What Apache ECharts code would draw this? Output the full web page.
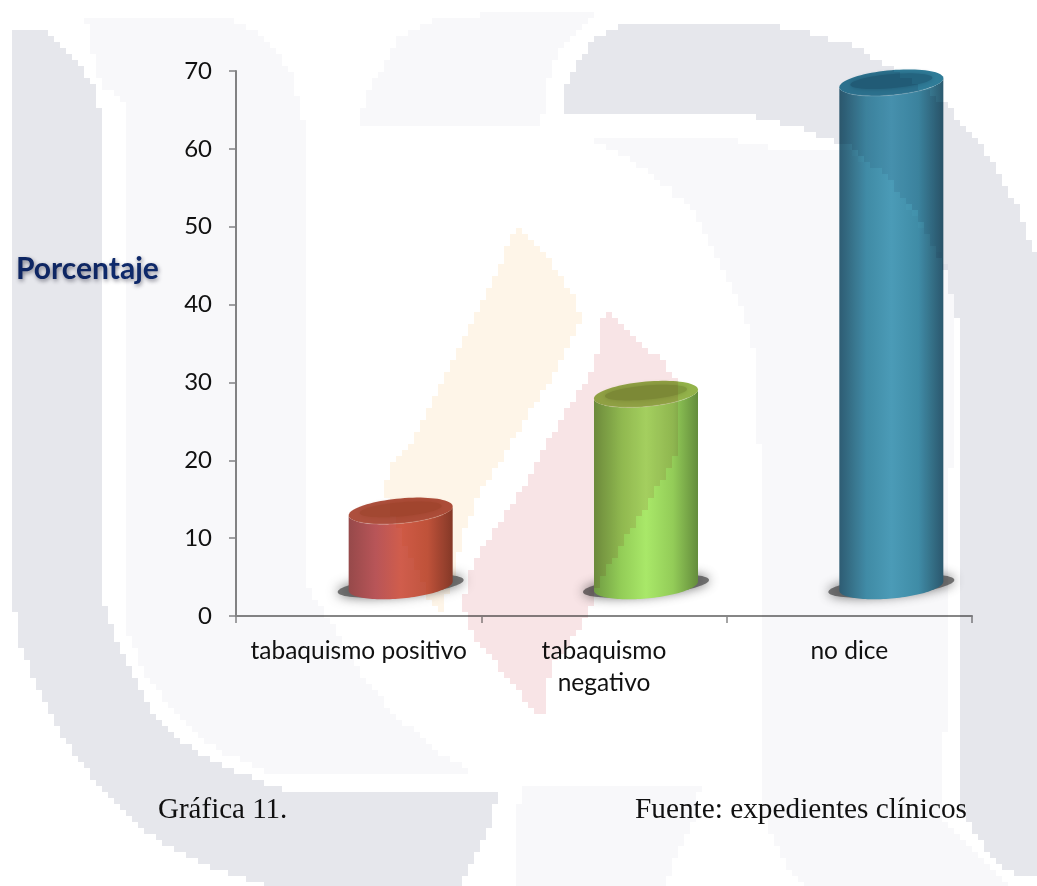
<!DOCTYPE html>
<html>
<head>
<meta charset="utf-8">
<title>Gráfica 11</title>
<script src="https://cdn.jsdelivr.net/npm/echarts@6/dist/echarts.min.js"></script>
<style>
  html, body { margin: 0; padding: 0; background: #fff; }
  #chart { width: 1037px; height: 886px; }
</style>
</head>
<body>
<div id="chart"></div>
<script>
// Smoking status recorded in the clinical files, percent of patients
const categories = ['tabaquismo positivo', 'tabaquismo\nnegativo', 'no dice'];
const percentages = [13.5, 28.5, 68.5];
const yTicks = { min: 0, max: 70, interval: 10 };

// Body gradient, top-face rim and top-face centre for each cylinder
const bodyShades = [
  ['#96494a', '#b85558', '#d05d4c', '#c0553f', '#853a2b'],
  ['#6f9a42', '#93cd57', '#a9e869', '#93cc58', '#648c3c'],
  ['#2f5f75', '#428fa9', '#4d9fbb', '#4190aa', '#2c5a6f']
];
const rimShades = ['#ad4f3d', '#93b34a', '#2f7c98'];
const capShades = ['#a24832', '#7f993c', '#24647f'];

// Cylinder proportions, in pixels
const BODY_RX = 52, CAP_RY = 12.5, TILT = 4.5;
const DEPTH_SHIFT = 42, FLOOR_LIFT = 30;

function ellipsePoints(cx, cy, rx, ry, tilt, from, to, n) {
  const pts = [];
  for (let k = 0; k <= n; k++) {
    const t = from + (to - from) * k / n;
    const c = Math.cos(t);
    pts.push([cx + rx * c, cy + ry * Math.sin(t) - tilt * c]);
  }
  return pts;
}

function renderCylinder(params, api) {
  const i = api.value(0);
  const top = api.coord([i, api.value(1)]);
  const zero = api.coord([i, 0]);
  const cx = top[0] + DEPTH_SHIFT;
  const yTop = top[1];
  const yBase = zero[1] - FLOOR_LIFT;
  const g = echarts.graphic;

  const front = ellipsePoints(cx, yBase, BODY_RX, CAP_RY, TILT, Math.PI, 0, 60);
  const bodyPts = [[cx - BODY_RX, yTop + TILT]].concat(front, [[cx + BODY_RX, yTop - TILT]]);
  const capFront = ellipsePoints(cx, yTop, BODY_RX, CAP_RY, TILT, 0, Math.PI, 60);
  const shade = bodyShades[i];

  return {
    type: 'group',
    children: [
      {
        type: 'polygon',
        shape: { points: ellipsePoints(cx, yBase, 63, 10, 6, 0, Math.PI * 2, 80) },
        style: { fill: 'rgba(85,85,85,0.8)', shadowBlur: 12, shadowColor: 'rgba(60,60,60,0.9)' }
      },
      {
        type: 'polygon',
        shape: { points: bodyPts.concat(capFront) },
        style: {
          fill: new g.LinearGradient(0, 0, 1, 0, [
            { offset: 0, color: shade[0] },
            { offset: 0.26, color: shade[1] },
            { offset: 0.5, color: shade[2] },
            { offset: 0.76, color: shade[3] },
            { offset: 1, color: shade[4] }
          ])
        }
      },
      {
        type: 'polygon',
        shape: { points: ellipsePoints(cx, yTop, BODY_RX, CAP_RY, TILT, 0, Math.PI * 2, 80) },
        style: { fill: rimShades[i] }
      },
      {
        type: 'polygon',
        shape: { points: ellipsePoints(cx, yTop - 1.5, BODY_RX - 11, CAP_RY - 5.5, TILT - 1, 0, Math.PI * 2, 60) },
        style: { fill: capShades[i], shadowBlur: 5, shadowColor: capShades[i] }
      },
      {
        type: 'polyline',
        shape: { points: ellipsePoints(cx, yTop, BODY_RX, CAP_RY, TILT, Math.PI * 0.2, Math.PI * 0.8, 30) },
        style: { fill: 'none', stroke: 'rgba(255,255,255,0.16)', lineWidth: 1.2 }
      }
    ]
  };
}

// Institutional watermark printed across the page, multiplied over everything.
// Its outlines come from a coarse bitmap, so they are stepped on a small grid.
const markGrey = '#e6e7ec', markPale = '#f8f8fa', markAmber = '#fef5e8', markRose = '#f8e4e6';
const watermark = [
  [markPale, [[85,18],[233,20],[267,40],[293,77],[303,123],[303,560],[310,590],[327,616],[367,683],[400,720],[440,753],[470,771],[267,771],[217,750],[173,710],[143,670],[127,630],[123,560],[123,100],[100,83]]],
  [markPale, [[360,123],[367,93],[400,37],[433,20],[520,10],[603,12],[583,23],[560,50],[547,83],[542,123]]],
  [markPale, [[587,137],[717,137],[784,150],[839,147],[884,173],[944,260],[950,283],[955,333],[950,500],[944,776],[940,820],[964,843],[1000,876],[1010,886],[804,886],[784,860],[767,826],[759,776],[759,443],[754,350],[740,300],[717,260],[694,213],[660,180],[627,157]]],
  [markPale, [[520,786],[700,786],[694,820],[677,853],[664,886],[515,886]]],
  [markAmber, [[517,227],[550,262],[577,300],[580,320],[563,360],[480,493],[463,533],[453,576],[443,612],[433,606],[410,555],[383,490],[393,460],[410,443],[467,333]]],
  [markRose, [[605,307],[667,367],[680,385],[680,450],[597,587],[587,616],[574,636],[550,670],[545,713],[538,713],[517,690],[470,630],[463,603],[473,560],[520,493],[547,443],[594,367]]],
  [markGrey, [[10,28],[30,28],[45,32],[65,47],[80,65],[95,90],[100,110],[100,560],[105,608],[120,650],[135,680],[150,710],[175,735],[200,755],[230,770],[270,785],[290,793],[497,793],[490,826],[477,853],[460,886],[267,886],[240,876],[200,863],[143,830],[100,786],[67,743],[33,676],[20,643],[10,576]]],
  [markGrey, [[565,113],[565,87],[577,63],[594,40],[617,27],[630,22],[750,22],[800,30],[850,45],[884,63],[944,103],[984,150],[1017,207],[1037,260],[1037,876],[1017,873],[997,863],[974,833],[963,810],[962,443],[957,317],[947,277],[940,260],[917,213],[884,173],[850,147],[807,130],[750,115]]]
];

function stepped(points, cell) {
  const out = [];
  const snap = v => Math.round(v / cell) * cell;
  const push = (x, y) => {
    const last = out[out.length - 1];
    if (!last) { out.push([x, y]); return; }
    if (last[0] === x && last[1] === y) return;
    if (last[0] !== x && last[1] !== y) out.push([x, last[1]]);
    out.push([x, y]);
  };
  points.forEach((p, n) => {
    const q = points[(n + 1) % points.length];
    const steps = Math.ceil(Math.hypot(q[0] - p[0], q[1] - p[1]));
    for (let s = 0; s < steps; s++) {
      const x = p[0] + (q[0] - p[0]) * s / steps;
      const y = p[1] + (q[1] - p[1]) * s / steps;
      push(snap(x), snap(y));
    }
  });
  return out;
}

const chart = echarts.init(document.getElementById('chart'), null, { renderer: 'canvas' });
chart.setOption({
  animation: false,
  backgroundColor: '#ffffff',
  title: [
    {
      text: 'Porcentaje', left: 11, top: 249,
      textStyle: {
        fontFamily: 'Lato', fontWeight: 'bold', fontSize: 30, color: '#0f2a6b',
        textShadowColor: 'rgba(40,40,60,0.55)', textShadowBlur: 4, textShadowOffsetX: 1, textShadowOffsetY: 2
      }
    },
    {
      text: 'Gráfica 11.', left: 153, top: 791,
      textStyle: { fontFamily: 'Liberation Serif', fontWeight: 'normal', fontSize: 29, color: '#111' }
    },
    {
      text: 'Fuente: expedientes clínicos', left: 630, top: 791,
      textStyle: { fontFamily: 'Liberation Serif', fontWeight: 'normal', fontSize: 29.3, color: '#111' }
    }
  ],
  grid: { left: 236, top: 71, width: 736, height: 545, containLabel: false },
  xAxis: {
    type: 'category',
    data: categories,
    axisLine: { lineStyle: { color: '#868686', width: 2 } },
    axisTick: { show: true, length: 7, lineStyle: { color: '#868686', width: 1.5 } },
    axisLabel: {
      fontFamily: 'Lato', fontSize: 24.5, color: '#111', margin: 19,
      lineHeight: 32, interval: 0, align: 'center'
    }
  },
  yAxis: {
    type: 'value',
    min: yTicks.min, max: yTicks.max, interval: yTicks.interval,
    splitLine: { show: false },
    axisLine: { show: true, lineStyle: { color: '#868686', width: 2 } },
    axisTick: { show: true, length: 7, lineStyle: { color: '#868686', width: 1.5 } },
    axisLabel: { fontFamily: 'Lato', fontSize: 24, color: '#111', margin: 24 }
  },
  series: [{
    type: 'custom',
    name: 'Porcentaje',
    coordinateSystem: 'cartesian2d',
    clip: false,
    silent: true,
    encode: { x: 0, y: 1 },
    data: categories.map((c, i) => [i, percentages[i]]),
    renderItem: renderCylinder
  }],
  graphic: {
    elements: watermark.map(([color, points]) => ({
      type: 'polygon',
      silent: true,
      z: 1000,
      shape: { points: stepped(points, 6) },
      style: { fill: color, blend: 'multiply' }
    }))
  }
});
</script>
</body>
</html>
